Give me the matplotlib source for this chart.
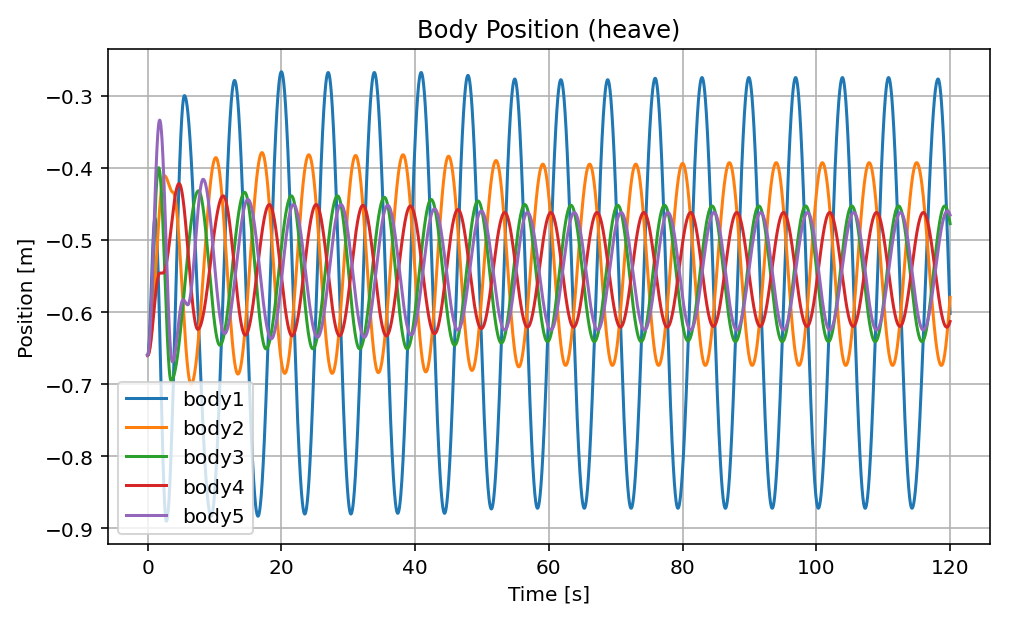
import numpy as np
import matplotlib
matplotlib.use("Agg")
import matplotlib.pyplot as plt

# turning points (time [s], heave position [m])
t1 = [0, 1.1, 2.8, 5.5, 9.5, 13.0, 16.5, 20.0, 23.5, 27.0, 30.4, 33.9, 37.4, 40.9, 44.4, 47.9, 51.4, 54.9, 58.3, 61.8,
      65.3, 68.8, 72.3, 75.9, 79.3, 82.9, 86.4, 89.9, 93.4, 96.9, 100.3, 103.9, 107.3, 110.8, 114.3, 118.2, 121.6]
v1 = [-0.66, -0.47, -0.890, -0.300, -0.883, -0.279, -0.883, -0.267, -0.880, -0.268, -0.880, -0.268, -0.879, -0.268,
      -0.879, -0.272, -0.873, -0.277, -0.872, -0.278, -0.872, -0.278, -0.872, -0.276, -0.872, -0.275, -0.872, -0.275,
      -0.872, -0.275, -0.872, -0.275, -0.872, -0.275, -0.872, -0.277, -0.872]

t2 = [0, 2.5, 3.8, 6.5, 10.2, 13.5, 17.1, 20.5, 24.1, 27.6, 31.1, 34.5, 38.2, 41.6, 45.0, 48.5, 52.1, 55.5, 59.1, 62.5,
      66.1, 69.5, 73.0, 76.4, 80.0, 83.4, 87.0, 90.4, 94.0, 97.4, 100.9, 104.4, 107.9, 111.4, 115.0, 118.7, 122.0]
v2 = [-0.66, -0.411, -0.434, -0.700, -0.386, -0.686, -0.379, -0.685, -0.382, -0.685, -0.383, -0.684, -0.382, -0.683,
      -0.384, -0.681, -0.390, -0.676, -0.395, -0.674, -0.395, -0.674, -0.395, -0.674, -0.394, -0.674, -0.393, -0.674,
      -0.393, -0.674, -0.393, -0.674, -0.393, -0.674, -0.393, -0.674, -0.393]

t3 = [0, 1.65, 3.5, 7.6, 10.8, 14.5, 17.7, 21.5, 24.7, 28.4, 31.7, 35.4, 38.8, 42.4, 45.9, 49.4, 52.9, 56.4, 59.8, 63.3,
      66.8, 70.3, 73.8, 77.3, 80.8, 84.4, 87.9, 91.4, 94.9, 98.4, 101.8, 105.3, 108.8, 112.3, 115.8, 119.2, 122.6]
v3 = [-0.66, -0.400, -0.695, -0.432, -0.646, -0.434, -0.651, -0.439, -0.651, -0.439, -0.651, -0.441, -0.651, -0.444,
      -0.646, -0.446, -0.643, -0.451, -0.641, -0.452, -0.641, -0.452, -0.641, -0.452, -0.640, -0.453, -0.641, -0.453,
      -0.641, -0.453, -0.641, -0.453, -0.641, -0.453, -0.641, -0.453, -0.641]

t4 = [0, 1.8, 2.3, 4.7, 7.5, 11.3, 14.6, 18.2, 21.6, 25.2, 28.7, 32.2, 35.7, 39.3, 42.9, 46.4, 49.9, 53.4, 56.8, 60.3,
      63.7, 67.2, 70.7, 74.2, 77.7, 81.2, 84.6, 88.1, 91.6, 95.1, 98.6, 102.0, 105.5, 109.0, 112.5, 116.0, 119.5, 123.0]
v4 = [-0.66, -0.546, -0.546, -0.422, -0.624, -0.439, -0.632, -0.451, -0.633, -0.451, -0.633, -0.452, -0.633, -0.453,
      -0.630, -0.458, -0.623, -0.462, -0.621, -0.462, -0.621, -0.462, -0.621, -0.462, -0.621, -0.462, -0.620, -0.462,
      -0.620, -0.462, -0.620, -0.462, -0.620, -0.462, -0.620, -0.462, -0.621, -0.462]

t5 = [0, 1.8, 3.7, 5.3, 6.0, 8.3, 11.5, 15.0, 18.5, 21.8, 25.4, 28.9, 32.4, 35.9, 39.4, 42.9, 46.4, 49.9, 53.4, 56.8,
      60.3, 63.8, 67.3, 70.8, 74.3, 77.8, 81.2, 84.7, 88.1, 91.7, 95.1, 98.7, 102.0, 105.6, 109.0, 112.6, 116.0, 119.6,
      123.0]
v5 = [-0.66, -0.334, -0.669, -0.583, -0.590, -0.416, -0.630, -0.444, -0.637, -0.451, -0.635, -0.451, -0.635, -0.452,
      -0.632, -0.457, -0.625, -0.460, -0.625, -0.462, -0.625, -0.462, -0.625, -0.462, -0.625, -0.462, -0.625, -0.462,
      -0.625, -0.462, -0.625, -0.462, -0.625, -0.462, -0.625, -0.462, -0.625, -0.460, -0.625]

labels = ["body1", "body2", "body3", "body4", "body5"]
t_end = 120.0


def smooth_through(tk, vk, t):
    # half-cosine easing between consecutive turning points
    tk = np.asarray(tk, float)
    vk = np.asarray(vk, float)
    i = np.clip(np.searchsorted(tk, t, side="right") - 1, 0, len(tk) - 2)
    s = (t - tk[i]) / (tk[i + 1] - tk[i])
    return vk[i] + (vk[i + 1] - vk[i]) * (1 - np.cos(np.pi * s)) / 2


time = np.linspace(0, t_end, 6001)

fig, ax = plt.subplots(figsize=(1024 / 145, 629 / 145), dpi=145)
fig.subplots_adjust(left=0.105, right=0.967, top=0.92, bottom=0.134)

for tk, vk, lab in zip([t1, t2, t3, t4, t5], [v1, v2, v3, v4, v5], labels):
    ax.plot(time, smooth_through(tk, vk, time), label=lab)

ax.grid(True)
ax.set_title("Body Position (heave)")
ax.set_xlabel("Time [s]")
ax.set_ylabel("Position [m]")
ax.legend(loc="lower left")

fig.savefig("out.png", dpi=145)
